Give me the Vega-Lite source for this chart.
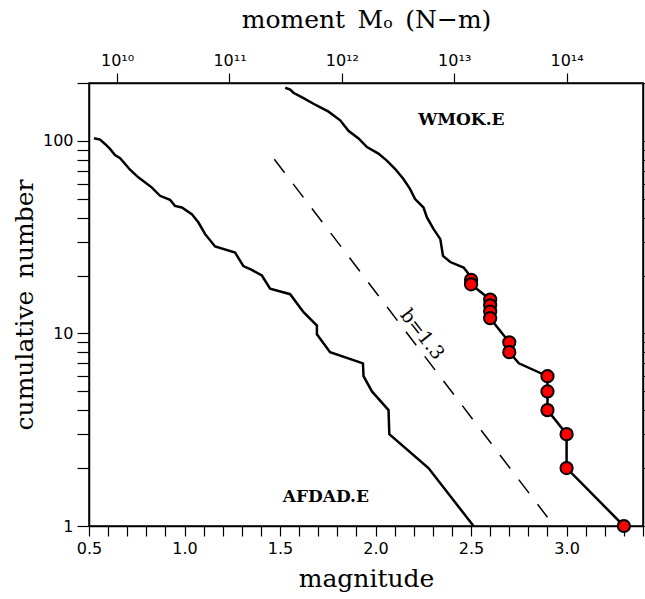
{
  "$schema": "https://vega.github.io/schema/vega-lite/v6.json",
  "width": 554,
  "height": 443,
  "autosize": {"type": "none"},
  "padding": {"left": 89, "top": 83, "right": 2, "bottom": 73},
  "background": "white",
  "config": {
    "view": {"stroke": "black", "strokeWidth": 1.5},
    "axis": {
      "domainColor": "black", "domainWidth": 1.5,
      "tickColor": "black", "tickWidth": 1.2,
      "labelColor": "black", "titleColor": "black",
      "labelFont": "DejaVu Sans", "labelFontSize": 16,
      "titleFont": "DejaVu Serif", "titleFontSize": 25, "titleFontWeight": "normal",
      "grid": false, "labelOverlap": false, "labelFlush": false, "labelBound": false
    }
  },
  "datasets": {
    "curves": [
      {"series": "AFDAD.E", "i": 1, "M": 0.526, "N": 103.3},
      {"series": "AFDAD.E", "i": 2, "M": 0.558, "N": 101.6},
      {"series": "AFDAD.E", "i": 3, "M": 0.584, "N": 96.5},
      {"series": "AFDAD.E", "i": 4, "M": 0.610, "N": 90.9},
      {"series": "AFDAD.E", "i": 5, "M": 0.636, "N": 84.6},
      {"series": "AFDAD.E", "i": 6, "M": 0.663, "N": 81.3},
      {"series": "AFDAD.E", "i": 7, "M": 0.715, "N": 70.9},
      {"series": "AFDAD.E", "i": 8, "M": 0.758, "N": 64.7},
      {"series": "AFDAD.E", "i": 9, "M": 0.828, "N": 57.4},
      {"series": "AFDAD.E", "i": 10, "M": 0.872, "N": 51.9},
      {"series": "AFDAD.E", "i": 11, "M": 0.924, "N": 49.5},
      {"series": "AFDAD.E", "i": 12, "M": 0.950, "N": 46.0},
      {"series": "AFDAD.E", "i": 13, "M": 0.986, "N": 45.1},
      {"series": "AFDAD.E", "i": 14, "M": 1.038, "N": 41.7},
      {"series": "AFDAD.E", "i": 15, "M": 1.073, "N": 37.7},
      {"series": "AFDAD.E", "i": 16, "M": 1.108, "N": 32.8},
      {"series": "AFDAD.E", "i": 17, "M": 1.160, "N": 28.3},
      {"series": "AFDAD.E", "i": 18, "M": 1.265, "N": 26.3},
      {"series": "AFDAD.E", "i": 19, "M": 1.308, "N": 22.4},
      {"series": "AFDAD.E", "i": 20, "M": 1.352, "N": 21.4},
      {"series": "AFDAD.E", "i": 21, "M": 1.405, "N": 20.0},
      {"series": "AFDAD.E", "i": 22, "M": 1.448, "N": 17.1},
      {"series": "AFDAD.E", "i": 23, "M": 1.553, "N": 16.0},
      {"series": "AFDAD.E", "i": 24, "M": 1.623, "N": 12.9},
      {"series": "AFDAD.E", "i": 25, "M": 1.693, "N": 11.0},
      {"series": "AFDAD.E", "i": 26, "M": 1.693, "N": 9.9},
      {"series": "AFDAD.E", "i": 27, "M": 1.762, "N": 8.0},
      {"series": "AFDAD.E", "i": 28, "M": 1.934, "N": 7.0},
      {"series": "AFDAD.E", "i": 29, "M": 1.937, "N": 6.0},
      {"series": "AFDAD.E", "i": 30, "M": 1.981, "N": 5.0},
      {"series": "AFDAD.E", "i": 31, "M": 2.068, "N": 4.0},
      {"series": "AFDAD.E", "i": 32, "M": 2.072, "N": 3.0},
      {"series": "AFDAD.E", "i": 33, "M": 2.277, "N": 2.0},
      {"series": "AFDAD.E", "i": 34, "M": 2.513, "N": 1.0},
      {"series": "WMOK.E", "i": 1, "M": 1.527, "N": 189},
      {"series": "WMOK.E", "i": 2, "M": 1.553, "N": 185},
      {"series": "WMOK.E", "i": 3, "M": 1.570, "N": 178},
      {"series": "WMOK.E", "i": 4, "M": 1.623, "N": 167},
      {"series": "WMOK.E", "i": 5, "M": 1.675, "N": 156},
      {"series": "WMOK.E", "i": 6, "M": 1.719, "N": 148},
      {"series": "WMOK.E", "i": 7, "M": 1.754, "N": 142},
      {"series": "WMOK.E", "i": 8, "M": 1.815, "N": 128},
      {"series": "WMOK.E", "i": 9, "M": 1.858, "N": 113},
      {"series": "WMOK.E", "i": 10, "M": 1.911, "N": 103},
      {"series": "WMOK.E", "i": 11, "M": 1.955, "N": 93},
      {"series": "WMOK.E", "i": 12, "M": 2.015, "N": 86},
      {"series": "WMOK.E", "i": 13, "M": 2.059, "N": 79},
      {"series": "WMOK.E", "i": 14, "M": 2.103, "N": 71.5},
      {"series": "WMOK.E", "i": 15, "M": 2.146, "N": 63.4},
      {"series": "WMOK.E", "i": 16, "M": 2.181, "N": 56.2},
      {"series": "WMOK.E", "i": 17, "M": 2.207, "N": 49.9},
      {"series": "WMOK.E", "i": 18, "M": 2.251, "N": 45.1},
      {"series": "WMOK.E", "i": 19, "M": 2.269, "N": 40.1},
      {"series": "WMOK.E", "i": 20, "M": 2.304, "N": 34.8},
      {"series": "WMOK.E", "i": 21, "M": 2.339, "N": 30.9},
      {"series": "WMOK.E", "i": 22, "M": 2.353, "N": 25.3},
      {"series": "WMOK.E", "i": 23, "M": 2.391, "N": 23.5},
      {"series": "WMOK.E", "i": 24, "M": 2.461, "N": 22.0},
      {"series": "WMOK.E", "i": 25, "M": 2.496, "N": 19.9},
      {"series": "WMOK.E", "i": 26, "M": 2.5, "N": 19},
      {"series": "WMOK.E", "i": 27, "M": 2.5, "N": 18},
      {"series": "WMOK.E", "i": 28, "M": 2.6, "N": 15},
      {"series": "WMOK.E", "i": 29, "M": 2.6, "N": 12},
      {"series": "WMOK.E", "i": 30, "M": 2.7, "N": 9},
      {"series": "WMOK.E", "i": 31, "M": 2.7, "N": 8},
      {"series": "WMOK.E", "i": 32, "M": 2.75, "N": 7},
      {"series": "WMOK.E", "i": 33, "M": 2.9, "N": 6},
      {"series": "WMOK.E", "i": 34, "M": 2.9, "N": 4},
      {"series": "WMOK.E", "i": 35, "M": 3.0, "N": 3},
      {"series": "WMOK.E", "i": 36, "M": 3.0, "N": 2},
      {"series": "WMOK.E", "i": 37, "M": 3.3, "N": 1}
    ],
    "events": [
      {"M": 2.5, "N": 19}, {"M": 2.5, "N": 18},
      {"M": 2.6, "N": 15}, {"M": 2.6, "N": 14}, {"M": 2.6, "N": 13}, {"M": 2.6, "N": 12},
      {"M": 2.7, "N": 9}, {"M": 2.7, "N": 8},
      {"M": 2.9, "N": 6}, {"M": 2.9, "N": 5}, {"M": 2.9, "N": 4},
      {"M": 3.0, "N": 3}, {"M": 3.0, "N": 2},
      {"M": 3.3, "N": 1}
    ],
    "bline": [
      {"M": 1.47, "N": 80.4},
      {"M": 2.9, "N": 1.11}
    ],
    "labels": [
      {"M": 2.449, "N": 128.9, "label": "WMOK.E"},
      {"M": 1.740, "N": 1.407, "label": "AFDAD.E"}
    ],
    "blabel": [
      {"M": 2.244, "N": 9.88, "label": "b=1.3"}
    ],
    "moment": [
      {"M0": 5.623e9, "N": 1},
      {"M0": 4.786e14, "N": 200}
    ]
  },
  "layer": [
    {
      "layer": [
        {
          "data": {"name": "curves"},
          "mark": {"type": "line", "color": "black", "strokeWidth": 2.5},
          "encoding": {
            "x": {
              "field": "M", "type": "quantitative",
              "scale": {"domain": [0.5, 3.4], "nice": false, "zero": false},
              "axis": {
                "orient": "bottom", "title": "magnitude",
                "values": [0.5,0.6,0.7,0.8,0.9,1.0,1.1,1.2,1.3,1.4,1.5,1.6,1.7,1.8,1.9,2.0,2.1,2.2,2.3,2.4,2.5,2.6,2.7,2.8,2.9,3.0,3.1,3.2,3.3,3.4],
                "tickCount": 60,
                "labelExpr": "round(datum.value*10)%5==0 ? format(datum.value,'.1f') : ''",
                "tickSize": 10, "labelPadding": 4, "titlePadding": 10
              }
            },
            "y": {
              "field": "N", "type": "quantitative",
              "scale": {"type": "log", "domain": [1, 200], "nice": false},
              "axis": {
                "orient": "left", "title": "cumulative\u2002number",
                "values": [1,2,3,4,5,6,7,8,9,10,20,30,40,50,60,70,80,90,100,200],
                "tickCount": 60,
                "labelExpr": "datum.value==1 ? '1' : datum.value==10 ? '10' : datum.value==100 ? '100' : ''",
                "tickSize": 12, "labelPadding": 4, "titlePadding": 5
              }
            },
            "detail": {"field": "series"},
            "order": {"field": "i"}
          }
        },
        {
          "data": {"name": "bline"},
          "mark": {"type": "line", "color": "black", "strokeWidth": 1.5, "strokeDash": [17, 14]},
          "encoding": {
            "x": {"field": "M", "type": "quantitative"},
            "y": {"field": "N", "type": "quantitative"}
          }
        },
        {
          "data": {"name": "events"},
          "mark": {"type": "point", "shape": "circle", "filled": true, "fill": "red", "stroke": "black", "strokeWidth": 2, "size": 150, "opacity": 1, "fillOpacity": 1, "strokeOpacity": 1},
          "encoding": {
            "x": {"field": "M", "type": "quantitative"},
            "y": {"field": "N", "type": "quantitative"}
          }
        },
        {
          "data": {"name": "labels"},
          "mark": {"type": "text", "font": "DejaVu Serif", "fontWeight": "bold", "fontSize": 17, "color": "black", "baseline": "middle", "align": "center"},
          "encoding": {
            "x": {"field": "M", "type": "quantitative"},
            "y": {"field": "N", "type": "quantitative"},
            "text": {"field": "label"}
          }
        },
        {
          "data": {"name": "blabel"},
          "mark": {"type": "text", "font": "DejaVu Serif", "fontSize": 19, "color": "black", "baseline": "middle", "align": "center", "angle": 52},
          "encoding": {
            "x": {"field": "M", "type": "quantitative"},
            "y": {"field": "N", "type": "quantitative"},
            "text": {"field": "label"}
          }
        }
      ]
    },
    {
      "data": {"name": "moment"},
      "mark": {"type": "point", "opacity": 0},
      "encoding": {
        "x": {
          "field": "M0", "type": "quantitative",
          "scale": {"type": "log", "domain": [5.623e9, 4.786e14], "nice": false},
          "axis": {
            "orient": "top", "title": "moment\u2002Mₒ\u2002(N−m)",
            "values": [1e10, 1e11, 1e12, 1e13, 1e14],
            "tickCount": 20,
            "labelExpr": "'10' + ['¹⁰','¹¹','¹²','¹³','¹⁴'][round(log(datum.value)/LN10)-10]",
            "tickSize": 10, "labelPadding": 5, "titlePadding": 20
          }
        },
        "y": {
          "field": "N", "type": "quantitative",
          "scale": {"type": "log", "domain": [1, 200], "nice": false},
          "axis": {
            "orient": "right", "title": null, "labels": false,
            "values": [1,2,3,4,5,6,7,8,9,10,20,30,40,50,60,70,80,90,100,200],
            "tickCount": 60,
            "tickSize": 8
          }
        }
      }
    }
  ],
  "resolve": {"scale": {"x": "independent", "y": "independent"}}
}
